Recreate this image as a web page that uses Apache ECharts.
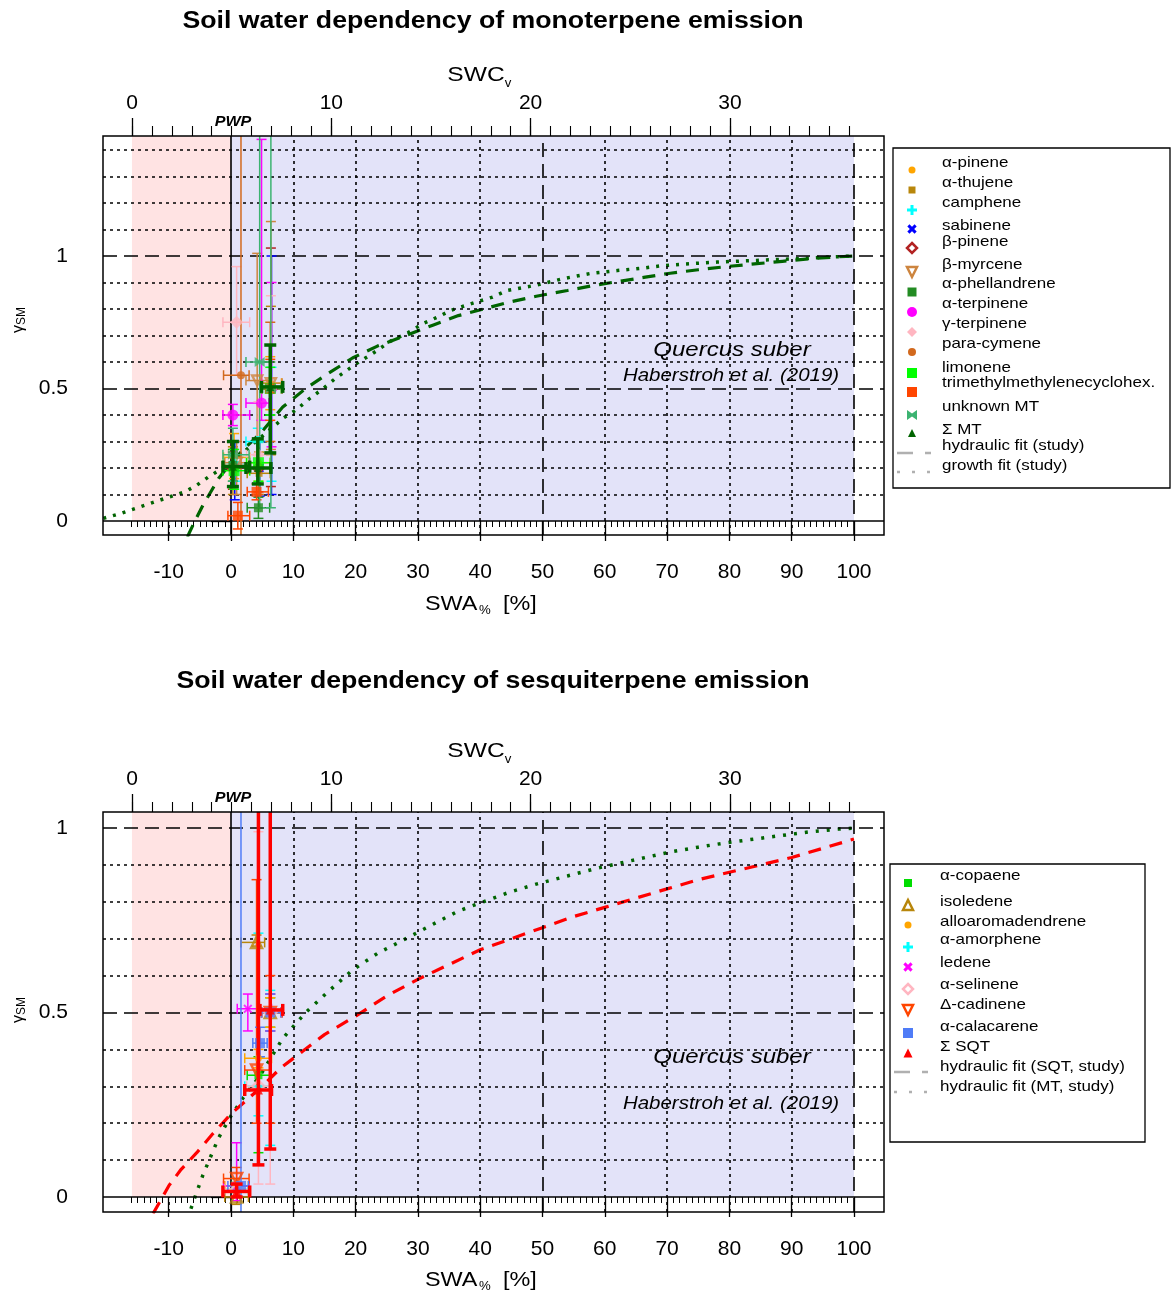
<!DOCTYPE html>
<html><head><meta charset="utf-8">
<script src="https://cdn.jsdelivr.net/npm/echarts@6/dist/echarts.min.js"></script>
<style>html,body{margin:0;padding:0;background:#fff}#c{width:1171px;height:1292px}</style>
</head><body><div id="c"></div>
<script>
// ================= DATA =================
const swaTicks = [-10, 0, 10, 20, 30, 40, 50, 60, 70, 80, 90, 100];
const swcTicks = [0, 10, 20, 30];
const gammaTicks = [0, 0.5, 1];

// fitted curves (SWA % , gamma_SM)
const mtHydX = [-7.0,-6.0,-4.5,-3.0,-2.0,0.0,2.0,4.7,8.3,12.0,15.5,19.5,23.5,27.5,32.5,36.5,40.5,44.5,49.0,54.0,58.5,62.5,66.5,70.5,75.0,79.5,84.0,88.5,93.0,97.5,100.0];
const mtHydY = [-0.06,-0.01,0.06,0.12,0.16,0.22,0.27,0.33,0.43,0.50,0.555,0.615,0.66,0.695,0.74,0.775,0.80,0.825,0.848,0.87,0.89,0.905,0.92,0.935,0.948,0.96,0.97,0.98,0.99,0.997,1.0];
const mtGrowthX = [-20.5,-17.5,-15,-12.5,-10,-7.4,-5.5,-3.7,-2,0,2,4,6,8.5,10.5,12.5,14.8,16.6,18.7,20.5,22.6,25.7,28.4,30.8,33.2,35.3,39.2,42,44.3,49,53.4,57.9,62,66.3,69,73,78,85.9,91.3,96,100];
const mtGrowthY = [0.01,0.03,0.05,0.07,0.09,0.11,0.135,0.165,0.19,0.22,0.26,0.30,0.34,0.39,0.42,0.46,0.50,0.535,0.57,0.60,0.63,0.68,0.71,0.745,0.77,0.795,0.825,0.845,0.87,0.89,0.915,0.935,0.945,0.955,0.963,0.97,0.977,0.985,0.99,0.996,1.0];
const sqtHydX = [-12.5,-10,-8,-5.5,-3,0,3,5,8,11.5,15,20,25,30,35,40,45,50,55,60,65,70,75,80,85,90,95,100];
const sqtHydY = [-0.045,0.03,0.075,0.12,0.17,0.225,0.27,0.30,0.35,0.395,0.44,0.49,0.545,0.59,0.63,0.67,0.70,0.73,0.76,0.785,0.81,0.835,0.86,0.88,0.90,0.92,0.945,0.97];

// measurements: [SWA, gamma, SWA low, SWA high, gamma low, gamma high]
const aPinene       = [[0.5,0.24,-1.2,3.0,0.16,0.33],[4.4,0.22,2.5,6.3,0.15,0.30],[6.3,0.52,4.9,8.1,0.42,0.62]];
const aThujene      = [[0.3,0.20,-1.3,2.9,0.10,0.28],[4.5,0.18,2.6,6.3,0.10,0.26],[6.4,0.50,4.9,8.2,0.25,0.81]];
const camphene      = [[0.6,0.22,-1.1,3.0,0.15,0.30],[4.3,0.30,2.4,6.2,0.25,0.35],[6.5,0.50,5.0,8.2,0.15,0.58]];
const sabinene      = [[0.6,0.20,-1.2,3.0,0.08,0.30],[4.6,0.20,2.6,6.4,0.094,0.30],[6.5,0.50,4.9,8.2,0.10,1.00]];
const bPinene       = [[0.3,0.20,-1.3,2.9,0.12,0.26],[4.4,0.20,2.5,6.3,0.11,0.30],[6.4,0.50,4.9,8.1,0.13,1.03]];
const bMyrcene      = [[0.9,0.22,-1.0,3.0,0.10,0.30],[4.2,0.53,2.4,6.2,0.30,1.01],[6.4,0.52,4.9,8.2,0.27,1.13]];
const aPhellandrene = [[0.3,0.21,-1.3,2.9,0.15,0.27],[4.4,0.05,2.6,6.2,0.01,0.09],[6.3,0.50,4.9,8.1,0.40,0.60]];
const aTerpinene    = [[0.3,0.40,-1.3,3.0,0.36,0.44],[4.9,0.445,2.4,6.1,0.38,1.44],[6.5,0.50,4.9,8.2,0.28,0.90]];
const gTerpinene    = [[0.9,0.75,-1.3,3.0,0.55,0.96],[4.4,0.25,2.5,6.3,0.10,0.45],[6.4,0.50,4.9,8.1,0.30,0.85]];
const paraCymene    = [[1.6,0.55,-1.2,2.9,-0.10,1.50],[4.4,0.20,2.5,6.3,0.10,0.30],[6.3,0.50,4.9,8.2,0.30,0.75]];
const limonene      = [[0.5,0.19,-1.3,3.0,0.12,0.27],[4.4,0.22,2.5,6.3,0.15,0.30],[6.3,0.50,4.9,8.1,0.40,0.58]];
const trimethylCH   = [[1.1,0.02,-0.5,3.0,-0.03,0.07],[4.1,0.11,2.6,6.0,0.08,0.14],[6.3,0.50,4.9,8.2,0.38,0.61]];
const unknownMT     = [[0.3,0.25,-1.3,2.9,0.15,0.35],[4.6,0.60,2.4,6.4,0.05,1.60],[6.4,0.50,4.9,8.2,0.05,1.60]];
const sumMT         = [[0.3,0.205,-1.3,3.0,0.13,0.30],[4.3,0.20,2.4,6.4,0.14,0.31],[6.3,0.506,4.9,8.3,0.257,0.664]];

const aCopaene          = [[0.9,0.02,-1.0,2.8,0.0,0.04],[4.4,0.33,2.6,6.3,0.12,0.38],[6.3,0.50,4.9,8.0,0.46,0.54]];
const isoledene         = [[0.9,0.0,-1.0,2.8,-0.02,0.02],[4.1,0.69,1.6,5.4,0.68,0.71],[6.3,0.50,4.9,8.0,0.45,0.55]];
const alloaromadendrene = [[0.9,0.03,-1.0,2.8,0.0,0.05],[4.4,0.376,2.2,6.5,0.35,0.40],[6.3,0.50,4.9,8.0,0.46,0.54]];
const aAmorphene        = [[0.9,0.02,-1.2,2.9,0.0,0.05],[4.4,0.30,2.2,6.5,0.22,0.715],[6.3,0.50,4.9,8.2,0.14,0.56]];
const ledene            = [[0.9,0.03,-1.2,2.9,-0.01,0.147],[2.7,0.51,1.0,6.5,0.45,0.55],[6.3,0.50,4.9,8.2,0.45,0.55]];
const aSelinene         = [[0.9,0.02,-1.0,2.8,0.0,0.04],[4.4,0.30,2.5,6.3,0.035,0.99],[6.3,0.50,4.9,8.0,0.035,0.60]];
const dCadinene         = [[0.9,0.05,-1.2,2.9,0.02,0.08],[4.1,0.344,2.2,6.3,0.20,0.86],[6.3,0.50,4.9,8.2,0.20,0.60]];
const aCalacarene       = [[1.6,0.03,-0.5,2.8,-0.10,1.20],[4.65,0.417,3.5,5.8,0.38,0.46],[6.3,0.50,4.9,8.0,0.45,0.55]];
const sumSQT            = [[0.9,0.015,-1.3,3.0,0.0,0.035],[4.4,0.29,2.2,6.5,0.087,1.20],[6.3,0.507,4.65,8.3,0.13,1.20]];

// ================= STYLE / LAYOUT =================
const FONT = '"Liberation Sans", Arial, sans-serif';
const SWA_MIN = -20.55, SWA_MAX = 104.82;
const SWC_MIN = -1.455, SWC_MAX = 37.73;
const Y1_MIN = -0.0528, Y1_MAX = 1.4528;
const Y2_MIN = -0.0407, Y2_MAX = 1.0434;

const mtSpecies = [
  {name:'α-pinene', data:aPinene, color:'#FFA500', shape:'circle', size:7},
  {name:'α-thujene', data:aThujene, color:'#B8860B', shape:'rect', size:7},
  {name:'camphene', data:camphene, color:'#00FFFF', shape:'plus', size:11},
  {name:'sabinene', data:sabinene, color:'#0000FF', shape:'cross', size:9},
  {name:'β-pinene', data:bPinene, color:'#B22222', shape:'diamond', size:11, hollow:true},
  {name:'β-myrcene', data:bMyrcene, color:'#CD853F', shape:'triDown', size:10, hollow:true},
  {name:'α-phellandrene', data:aPhellandrene, color:'#228B22', shape:'rect', size:9},
  {name:'α-terpinene', data:aTerpinene, color:'#FF00FF', shape:'circle', size:11},
  {name:'γ-terpinene', data:gTerpinene, color:'#FFB6C1', shape:'diamond', size:13},
  {name:'para-cymene', data:paraCymene, color:'#D2691E', shape:'circle', size:8},
  {name:'limonene', data:limonene, color:'#00FF00', shape:'rect', size:11},
  {name:'trimethylmethylenecyclohex.', data:trimethylCH, color:'#FF4500', shape:'rect', size:10},
  {name:'unknown MT', data:unknownMT, color:'#3CB371', shape:'bowtie', size:10},
  {name:'Σ MT', data:sumMT, color:'#006400', shape:'triangle', size:8, lw:3.5, cap:6}
];
const sqtSpecies = [
  {name:'α-copaene', data:aCopaene, color:'#00DD00', shape:'rect', size:8},
  {name:'isoledene', data:isoledene, color:'#B8860B', shape:'triangle', size:11, hollow:true},
  {name:'alloaromadendrene', data:alloaromadendrene, color:'#FFA500', shape:'circle', size:7},
  {name:'α-amorphene', data:aAmorphene, color:'#00FFFF', shape:'plus', size:11},
  {name:'ledene', data:ledene, color:'#FF00FF', shape:'cross', size:9},
  {name:'α-selinene', data:aSelinene, color:'#FFB6C1', shape:'diamond', size:12, hollow:true},
  {name:'Δ-cadinene', data:dCadinene, color:'#FF4500', shape:'triDown', size:11, hollow:true},
  {name:'α-calacarene', data:aCalacarene, color:'#4F7CF7', shape:'rect', size:10},
  {name:'Σ SQT', data:sumSQT, color:'#FF0000', shape:'triangle', size:9, lw:3.5, cap:6}
];

const SYM = {
  circle:'circle', rect:'rect', triangle:'triangle', diamond:'diamond',
  plus:'path://M3.5,0H6.5V3.5H10V6.5H6.5V10H3.5V6.5H0V3.5H3.5Z',
  cross:'path://M1.5,0L5,3.5L8.5,0L10,1.5L6.5,5L10,8.5L8.5,10L5,6.5L1.5,10L0,8.5L3.5,5L0,1.5Z',
  triDown:'path://M0,0L10,0L5,9Z',
  bowtie:'path://M0,0L5,3.5L10,0V10L5,6.5L0,10Z'
};

function range(a, b, step) { const r = []; for (let v = a; v <= b + 1e-9; v += step) r.push(Math.round(v * 1000) / 1000); return r; }
const zip = (xs, ys) => xs.map((x, i) => [x, ys[i]]);

// ================= AXES =================
const xAxes = [], yAxes = [];
function panelAxes(gi, yMin, yMax, yMinorMax) {
  xAxes.push({type:'value', gridIndex:gi, position:'bottom', min:SWA_MIN, max:SWA_MAX,
    axisLine:{show:false}, splitLine:{show:false},
    axisTick:{show:true, customValues:swaTicks, length:20, lineStyle:{color:'#000', width:1.3}},
    axisLabel:{show:true, customValues:swaTicks, margin:27, fontSize:21, color:'#000', fontFamily:FONT}});
  xAxes.push({type:'value', gridIndex:gi, position:'bottom', min:SWA_MIN, max:SWA_MAX,
    axisLine:{show:false}, splitLine:{show:false},
    axisTick:{show:true, customValues:range(-16, 100, 1), length:6, lineStyle:{color:'#000', width:1}},
    axisLabel:{show:false}});
  xAxes.push({type:'value', gridIndex:gi, position:'top', min:SWC_MIN, max:SWC_MAX,
    axisLine:{show:false}, splitLine:{show:false},
    axisTick:{show:true, customValues:swcTicks, length:18, lineStyle:{color:'#000', width:1.3}},
    axisLabel:{show:true, customValues:swcTicks, margin:22, fontSize:21, color:'#000', fontFamily:FONT}});
  xAxes.push({type:'value', gridIndex:gi, position:'top', min:SWC_MIN, max:SWC_MAX,
    axisLine:{show:false}, splitLine:{show:false},
    axisTick:{show:true, customValues:range(0, 36, 1), length:10, lineStyle:{color:'#000', width:1.1}},
    axisLabel:{show:false}});
  yAxes.push({type:'value', gridIndex:gi, position:'left', min:yMin, max:yMax,
    axisLine:{show:false}, splitLine:{show:false},
    axisTick:{show:true, customValues:gammaTicks, length:20, lineStyle:{color:'#000', width:1.3}},
    axisLabel:{show:true, customValues:gammaTicks, margin:35, fontSize:21, color:'#000', fontFamily:FONT}});
  yAxes.push({type:'value', gridIndex:gi, position:'left', min:yMin, max:yMax,
    axisLine:{show:false}, splitLine:{show:false},
    axisTick:{show:true, customValues:range(0, yMinorMax, 0.1), length:7, lineStyle:{color:'#000', width:1.1}},
    axisLabel:{show:false}});
}
panelAxes(0, Y1_MIN, Y1_MAX, 1.4);
panelAxes(1, Y2_MIN, Y2_MAX, 1.0);

// ================= SERIES =================
const series = [];
const DOT = {color:'#000', width:1.6, type:[3,4]};
const DASH = {color:'#000', width:1.6, type:[14,7]};
const SOLID = {color:'#000', width:1.6, type:'solid'};

function panelBackground(xi, yi, yMin, yMax, hLines) {
  series.push({type:'scatter', xAxisIndex:xi, yAxisIndex:yi, data:[], z:1, silent:true,
    markArea:{silent:true, data:[
      [{xAxis:-15.9, yAxis:0, itemStyle:{color:'#FFE3E3'}}, {xAxis:0, yAxis:yMax}],
      [{xAxis:0, yAxis:0, itemStyle:{color:'#E3E3F9'}}, {xAxis:100, yAxis:yMax}]
    ]}});
  const ml = [];
  hLines.forEach(v => ml.push({yAxis:v, lineStyle: (Math.abs(v-0.5)<1e-6 || Math.abs(v-1)<1e-6) ? DASH : DOT}));
  ml.push({yAxis:0, lineStyle:SOLID});
  [10,20,30,40,60,70,80,90].forEach(v => ml.push({xAxis:v, lineStyle:DOT}));
  [50,100].forEach(v => ml.push({xAxis:v, lineStyle:DASH}));
  ml.push({xAxis:0, lineStyle:SOLID});
  ml.push([{coord:[-10, yMin], lineStyle:DOT}, {coord:[-10, 0]}]);
  series.push({type:'scatter', xAxisIndex:xi, yAxisIndex:yi, data:[], z:2, silent:true,
    markLine:{silent:true, symbol:['none','none'], label:{show:false}, data:ml, animation:false}});
}
panelBackground(0, 0, Y1_MIN, Y1_MAX, range(0.1, 1.4, 0.1));
panelBackground(4, 2, Y2_MIN, Y2_MAX, range(0.1, 1.0, 0.1));

function fitLine(name, xs, ys, xi, yi, color, dash, w) {
  series.push({type:'line', name, xAxisIndex:xi, yAxisIndex:yi, data:zip(xs, ys), symbol:'none', showSymbol:false,
    lineStyle:{color, width:w, type:dash}, clip:true, z:4, silent:true, animation:false});
}
fitLine('growth fit (study)', mtGrowthX, mtGrowthY, 0, 0, '#006400', [3,7], 3.5);
fitLine('hydraulic fit (study)', mtHydX, mtHydY, 0, 0, '#006400', [13,9], 3.2);
fitLine('hydraulic fit (MT, study)', mtHydX, mtHydY, 4, 2, '#006400', [3,8], 3.5);
fitLine('hydraulic fit (SQT, study)', sqtHydX, sqtHydY, 4, 2, '#FF0000', [13,9], 3.2);

function errRender(color, lw, cap) {
  return function (params, api) {
    const x = api.value(0), y = api.value(1), xl = api.value(2), xh = api.value(3), yl = api.value(4), yh = api.value(5);
    const c = api.coord([x, y]), a = api.coord([xl, y]), b = api.coord([xh, y]), d = api.coord([x, yl]), e = api.coord([x, yh]);
    const st = {stroke:color, lineWidth:lw};
    const L = (x1, y1, x2, y2) => ({type:'line', shape:{x1, y1, x2, y2}, style:st});
    return {type:'group', children:[
      L(a[0], c[1], b[0], c[1]), L(a[0], c[1]-cap, a[0], c[1]+cap), L(b[0], c[1]-cap, b[0], c[1]+cap),
      L(c[0], d[1], c[0], e[1]), L(c[0]-cap, d[1], c[0]+cap, d[1]), L(c[0]-cap, e[1], c[0]+cap, e[1])
    ]};
  };
}
function addSpecies(list, xi, yi, zBase) {
  list.forEach((sp, i) => {
    const isSum = !!sp.lw;
    series.push({type:'custom', name:sp.name, xAxisIndex:xi, yAxisIndex:yi, data:sp.data,
      renderItem:errRender(sp.color, sp.lw || 1.5, sp.cap || 5), clip:true, silent:true,
      encode:{x:[0,2,3], y:[1,4,5]}, z: isSum ? zBase + 2 : zBase, animation:false});
    series.push({type:'scatter', name:sp.name, xAxisIndex:xi, yAxisIndex:yi,
      data:sp.data.map(r => [r[0], r[1]]), symbol:SYM[sp.shape], symbolSize:sp.size,
      itemStyle: sp.hollow ? {color:'rgba(0,0,0,0)', borderColor:sp.color, borderWidth:2.5} : {color:sp.color},
      z: isSum ? zBase + 3 : zBase + 1, clip:true, silent:true, animation:false});
  });
}
addSpecies(mtSpecies, 0, 0, 5);
addSpecies(sqtSpecies, 4, 2, 5);

// ================= TEXT & LEGENDS (graphic) =================
const graphic = [];
function txt(text, x, y, size, opt) {
  opt = opt || {};
  graphic.push({type:'text', x, y, scaleX: opt.sx || 1, rotation: opt.rot || 0, z:100, silent:true,
    style:{text, x:0, y:0, fill:'#000', font:(opt.style || '') + ' ' + (opt.weight || 'normal') + ' ' + size + 'px ' + FONT,
      textAlign: opt.align || 'center', textVerticalAlign: opt.valign || 'middle', rich: opt.rich}});
}
function panelTexts(dy, titleY, title, qy, hy) {
  txt(title, 493, titleY, 23, {weight:'bold', sx:1.16});
  txt('SWC', 476, 75 + dy, 21, {sx:1.17});
  txt('v', 508, 84 + dy, 12, {sx:1.1});
  txt('SWA', 425, 604 + dy, 20, {sx:1.17, align:'left'});
  txt('%', 479, 611 + dy, 12, {sx:1.1, align:'left'});
  txt('[%]', 503, 604 + dy, 20, {sx:1.17, align:'left'});
  txt('PWP', 233, 122 + dy, 14, {style:'italic', weight:'bold', sx:1.15});
  txt('Quercus suber', 732, qy, 20.5, {style:'italic', sx:1.17});
  txt('Haberstroh et al. (2019)', 731, hy, 17.5, {style:'italic', sx:1.17});
}
panelTexts(0, 22, 'Soil water dependency of monoterpene emission', 350, 376);
panelTexts(676, 682, 'Soil water dependency of sesquiterpene emission', 1057, 1104);
// y axis titles (gamma_SM)
[320, 1010].forEach(cy => {
  graphic.push({type:'text', x:19, y:cy, rotation:Math.PI/2, z:100, silent:true,
    style:{text:'{g|γ}{s|SM}', x:0, y:0, textAlign:'center', textVerticalAlign:'middle',
      rich:{g:{fontSize:16, fontFamily:FONT, fill:'#000'}, s:{fontSize:12, fontFamily:FONT, fill:'#000', padding:[5,0,0,0]}}}});
});

function gSym(sp, cx, cy) {
  const s = sp.size, h = s / 2;
  const st = sp.hollow ? {fill:'none', stroke:sp.color, lineWidth:2.5} : {fill:sp.color};
  const P = pts => ({type:'polygon', shape:{points:pts}, style:st, z:101});
  switch (sp.shape) {
    case 'circle': return {type:'circle', shape:{cx, cy, r:h}, style:st, z:101};
    case 'rect': return {type:'rect', shape:{x:cx-h, y:cy-h, width:s, height:s}, style:st, z:101};
    case 'triangle': return P([[cx,cy-h],[cx+h,cy+h],[cx-h,cy+h]]);
    case 'triDown': return P([[cx-h,cy-h],[cx+h,cy-h],[cx,cy+h]]);
    case 'diamond': return P([[cx,cy-h],[cx+h,cy],[cx,cy+h],[cx-h,cy]]);
    case 'bowtie': return P([[cx-h,cy-h],[cx,cy-h*0.3],[cx+h,cy-h],[cx+h,cy+h],[cx,cy+h*0.3],[cx-h,cy+h]]);
    case 'plus': return {type:'group', children:[
      {type:'line', shape:{x1:cx-h, y1:cy, x2:cx+h, y2:cy}, style:{stroke:sp.color, lineWidth:3}, z:101},
      {type:'line', shape:{x1:cx, y1:cy-h, x2:cx, y2:cy+h}, style:{stroke:sp.color, lineWidth:3}, z:101}]};
    case 'cross': return {type:'group', children:[
      {type:'line', shape:{x1:cx-h*0.8, y1:cy-h*0.8, x2:cx+h*0.8, y2:cy+h*0.8}, style:{stroke:sp.color, lineWidth:3}, z:101},
      {type:'line', shape:{x1:cx-h*0.8, y1:cy+h*0.8, x2:cx+h*0.8, y2:cy-h*0.8}, style:{stroke:sp.color, lineWidth:3}, z:101}]};
  }
}
function legendBox(x, y, w, h, list, symX, textX, symYs, textYs, fitNames, fitSymYs, fitTextYs) {
  graphic.push({type:'rect', shape:{x, y, width:w, height:h}, style:{fill:'#fff', stroke:'#000', lineWidth:1.3}, z:99, silent:true});
  list.forEach((sp, i) => {
    graphic.push(gSym(Object.assign({}, sp, {size: Math.min(sp.size, 10)}), symX, symYs[i]));
    txt(sp.name, textX, textYs[i], 14.5, {align:'left', sx:1.17});
  });
  fitNames.forEach((nm, i) => {
    const yy = fitSymYs[i];
    const dash = i === 0 ? [16,12] : [3,12];
    graphic.push({type:'line', shape:{x1:x+4, y1:yy, x2:x+38, y2:yy}, style:{stroke:'#B0B0B0', lineWidth:2.5, lineDash:dash}, z:101, silent:true});
    txt(nm, textX, fitTextYs[i], 14.5, {align:'left', sx:1.17});
  });
}
legendBox(893, 148, 277, 340, mtSpecies, 912, 942,
  [170,190,210,229,248,272,292,312,332,352,373,392,415,433],
  [162.7,182.7,202.7,226,241.7,265,284.3,304,324.3,344.3,367.7,382.7,406.7,430],
  ['hydraulic fit (study)', 'growth fit (study)'], [453, 472], [446, 466]);
legendBox(890, 864, 255, 278, sqtSpecies, 908, 940,
  [883,905,925,947,967,989,1010,1033,1053],
  [876,901.7,921.7,940,963,985,1005,1026.7,1046.7],
  ['hydraulic fit (SQT, study)', 'hydraulic fit (MT, study)'], [1072, 1092], [1066.7, 1086.7]);

// ================= CHART =================
const chart = echarts.init(document.getElementById('c'), null, {renderer:'canvas'});
chart.setOption({
  animation:false,
  backgroundColor:'#fff',
  grid:[
    {left:103, top:136, width:781, height:399, show:true, borderColor:'#000', borderWidth:1.5, backgroundColor:'transparent', z:50},
    {left:103, top:812, width:781, height:400, show:true, borderColor:'#000', borderWidth:1.5, backgroundColor:'transparent', z:50}
  ],
  xAxis:xAxes,
  yAxis:yAxes,
  series,
  graphic
});
</script>
</body></html>
